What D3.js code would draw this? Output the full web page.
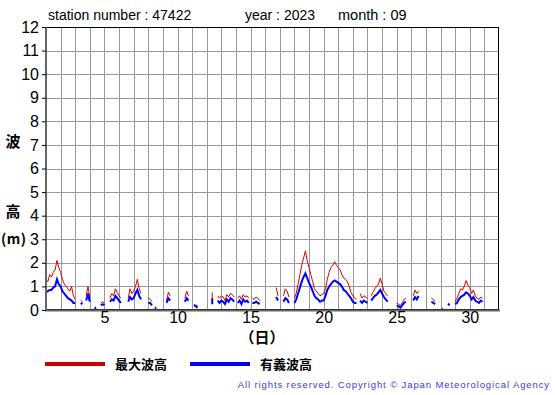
<!DOCTYPE html>
<meta charset="utf-8">
<style>
    body { margin: 0; background: #fff; }
    svg { font-family: "Liberation Sans", Arial, sans-serif; }
    .grid line { stroke: #999; stroke-width: 1; shape-rendering: crispEdges; }
    .ticklbl { font-size: 16px; fill: #000; }
    .jp { font-family: "Noto Sans CJK JP", sans-serif; font-weight: 700; }
</style>
<body>
<svg id="chart" width="555" height="395"></svg>
<script src="https://cdnjs.cloudflare.com/ajax/libs/d3/7.8.5/d3.min.js"></script>
<script>
// 3-hourly values, 8 per day, days 1..30 (null = missing)
var maxWave = [
    1.3, 1.2, 1.5, 1.4, 1.6, 1.7, 2.1, 1.8,
    1.6, 1.3, 1.1, 1.0, 0.9, 0.8, 1.0, 0.6,
    0.45, null, null, 0.4, 0.35, null, 0.6, 1.0,
    0.5, null, null, 0.15, null, null, 0.3, 0.35,
    0.3, null, null, 0.5, 0.7, 0.6, 0.9, 0.75,
    0.6, 0.5, null, null, null, 0.5, 0.9, 0.7,
    0.8, 1.0, 1.3, 0.9, 0.7, null, null, null,
    0.5, 0.45, 0.35, null, 0.15, null, null, null,
    null, null, 0.4, 0.75, 0.6, null, null, null,
    null, null, null, null, 0.5, 0.8, 0.6, null,
    null, 0.25, 0.2, 0.2, null, null, null, null,
    null, null, null, 0.75, null, null, 0.6, 0.5,
    0.6, 0.55, 0.4, 0.65, 0.55, 0.7, 0.65, 0.55,
    null, 0.5, 0.6, 0.45, 0.65, 0.55, 0.6, 0.5,
    null, 0.5, 0.45, 0.55, 0.5, 0.4, null, null,
    null, null, null, null, null, null, 0.95, 0.6,
    null, null, 0.6, 0.9, 0.8, 0.55, null, null,
    0.5, 0.7, 1.1, 1.5, 1.9, 2.2, 2.5, 2.1,
    1.8, 1.5, 1.2, 0.9, 0.8, 0.7, 0.6, 0.65,
    0.7, 0.9, 1.3, 1.6, 1.8, 1.9, 2.05, 1.9,
    1.8, 1.7, 1.5, 1.35, 1.3, 1.2, 1.0, 0.75,
    0.6, 0.5, 0.45, null, 0.7, 0.5, 0.6, 0.55,
    0.5, null, 0.6, 0.75, 0.9, 1.0, 1.1, 1.35,
    1.1, 0.8, 0.7, 0.6, null, null, null, null,
    0.3, 0.25, 0.2, 0.3, 0.45, 0.5, null, null,
    null, 0.6, 0.85, 0.7, 0.8, null, null, null,
    null, null, null, 0.5, 0.45, 0.35, null, null,
    null, 0.1, null, null, 0.3, 0.25, null, null,
    0.35, 0.5, 0.7, 0.9, 0.85, 1.0, 1.25, 1.05,
    0.95, 0.7, 0.85, 0.6, 0.5, 0.45, 0.55, 0.5
];
var sigWave = [
    0.75, 0.8, 0.85, 0.85, 0.95, 1.0, 1.3, 1.1,
    1.0, 0.8, 0.7, 0.6, 0.5, 0.45, 0.4, 0.3,
    0.3, null, null, 0.25, 0.3, null, 0.4, 0.7,
    0.35, null, null, 0.1, null, null, 0.2, 0.25,
    0.2, null, null, 0.35, 0.45, 0.4, 0.6, 0.5,
    0.4, 0.3, null, null, null, 0.35, 0.55, 0.45,
    0.5, 0.7, 0.85, 0.6, 0.45, null, null, null,
    0.3, 0.3, 0.2, null, 0.1, null, null, null,
    null, null, 0.3, 0.5, 0.4, null, null, null,
    null, null, null, null, 0.35, 0.5, 0.4, null,
    null, 0.2, 0.15, 0.1, null, null, null, null,
    null, null, null, 0.5, null, null, 0.4, 0.3,
    0.4, 0.35, 0.25, 0.45, 0.35, 0.5, 0.45, 0.35,
    null, 0.3, 0.4, 0.25, 0.45, 0.35, 0.4, 0.3,
    null, 0.3, 0.3, 0.35, 0.3, 0.25, null, null,
    null, null, null, null, null, null, 0.55, 0.4,
    null, null, 0.35, 0.5, 0.45, 0.3, null, null,
    0.3, 0.45, 0.7, 0.95, 1.2, 1.4, 1.55, 1.35,
    1.15, 1.0, 0.8, 0.6, 0.5, 0.45, 0.35, 0.4,
    0.4, 0.6, 0.85, 1.0, 1.1, 1.2, 1.25, 1.2,
    1.15, 1.1, 1.0, 0.85, 0.8, 0.7, 0.6, 0.5,
    0.35, 0.3, 0.3, null, 0.4, 0.3, 0.4, 0.35,
    0.3, null, 0.4, 0.5, 0.6, 0.65, 0.75, 0.85,
    0.7, 0.55, 0.45, 0.35, null, null, null, null,
    0.2, 0.15, 0.1, 0.2, 0.3, 0.35, null, null,
    null, 0.4, 0.55, 0.45, 0.6, null, null, null,
    null, null, null, 0.35, 0.3, 0.25, null, null,
    null, 0.05, null, null, 0.25, 0.2, null, null,
    0.25, 0.3, 0.45, 0.55, 0.6, 0.65, 0.75, 0.7,
    0.6, 0.45, 0.55, 0.4, 0.35, 0.3, 0.4, 0.35
];
var xTicks = [5, 10, 15, 20, 25, 30];
var yTicks = [0, 1, 2, 3, 4, 5, 6, 7, 8, 9, 10, 11, 12];
var stationNo = "47422", year = "2023", month = "09";

var svg = d3.select("#chart");
var x = d3.scaleLinear().domain([1, 32]).range([46, 499]);
var y = d3.scaleLinear().domain([0, 12]).range([310, 27]);

// grid
var grid = svg.append("g").attr("class", "grid");
grid.selectAll(".v").data(d3.range(2, 32)).enter().append("line")
    .attr("x1", function (d) { return Math.round(x(d)) + 0.5; })
    .attr("x2", function (d) { return Math.round(x(d)) + 0.5; })
    .attr("y1", y(12)).attr("y2", y(0));
grid.selectAll(".h").data(d3.range(1, 12)).enter().append("line")
    .attr("y1", function (d) { return Math.round(y(d)) + 0.5; })
    .attr("y2", function (d) { return Math.round(y(d)) + 0.5; })
    .attr("x1", x(1)).attr("x2", x(32));

// frame
svg.append("rect").attr("x", 46.5).attr("y", 27.5).attr("width", 452).attr("height", 282)
    .attr("fill", "none").attr("stroke", "#000").attr("stroke-width", 1);

function series(vals) {
    return vals.map(function (v, i) { return { t: 1 + i / 8, v: v }; });
}
var line = d3.line()
    .defined(function (d) { return d.v !== null; })
    .x(function (d) { return x(d.t); })
    .y(function (d) { return y(d.v); });

function drawSeries(vals, color, w) {
    var pts = series(vals);
    svg.append("path").datum(pts)
        .attr("d", line).attr("fill", "none")
        .attr("stroke", color).attr("stroke-width", w);
    // isolated observations drawn as short ticks
    var iso = pts.filter(function (d, i) {
        return d.v !== null && (i === 0 || pts[i - 1].v === null) && (i === pts.length - 1 || pts[i + 1].v === null);
    });
    svg.selectAll(null).data(iso).enter().append("line")
        .attr("x1", function (d) { return x(d.t); })
        .attr("x2", function (d) { return x(d.t); })
        .attr("y1", function (d) { return y(d.v); })
        .attr("y2", function (d) { return Math.min(y(0), y(d.v) + 6); })
        .attr("stroke", color).attr("stroke-width", w);
}
drawSeries(maxWave, "#dd0000", 1);
drawSeries(sigWave, "#0000ff", 2);

// axes lines (left & bottom heavier)
svg.append("line").attr("x1", 46).attr("x2", 46).attr("y1", 27).attr("y2", 311)
    .attr("stroke", "#666").attr("stroke-width", 2);
svg.append("line").attr("x1", 45).attr("x2", 500).attr("y1", 310.5).attr("y2", 310.5)
    .attr("stroke", "#666").attr("stroke-width", 2);

// y tick labels
var yAxis = svg.append("g").attr("transform", "translate(46,0)")
    .call(d3.axisLeft(y).tickValues(yTicks).tickSize(4).tickPadding(3));
yAxis.select(".domain").remove();
yAxis.selectAll("line").attr("stroke", "#000");
yAxis.selectAll("text").attr("class", "ticklbl").attr("font-family", null).attr("font-size", null);

// x tick labels
var xAxis = svg.append("g").attr("transform", "translate(0,310)")
    .call(d3.axisBottom(x).tickValues(xTicks).tickSize(0).tickPadding(2));
xAxis.select(".domain").remove();
xAxis.selectAll("text").attr("class", "ticklbl").attr("font-family", null).attr("font-size", null);

svg.append("text").attr("class", "jp").attr("x", 262).attr("y", 343)
    .attr("text-anchor", "middle").attr("font-size", 15).attr("font-weight", 400).text("（日）");

// y label
svg.append("text").attr("class", "jp").attr("x", 13).attr("y", 147)
    .attr("text-anchor", "middle").attr("font-size", 15).text("波");
svg.append("text").attr("class", "jp").attr("x", 13).attr("y", 217)
    .attr("text-anchor", "middle").attr("font-size", 15).text("高");
svg.append("text").attr("class", "jp").attr("x", 1).attr("y", 244)
    .attr("font-size", 14).attr("letter-spacing", 0.5)
    .text("(m)");

// title
svg.append("text").attr("x", 48).attr("y", 20).attr("font-size", 14)
    .text("station number : " + stationNo);
svg.append("text").attr("x", 245).attr("y", 20).attr("font-size", 14)
    .text("year : " + year);
svg.append("text").attr("x", 338).attr("y", 20).attr("font-size", 14.5)
    .text("month : " + month);

// legend
var legend = [{ name: "最大波高", color: "#cc0000", x: 45 }, { name: "有義波高", color: "#0000ff", x: 190 }];
legend.forEach(function (l) {
    svg.append("line").attr("x1", l.x).attr("x2", l.x + 60).attr("y1", 364).attr("y2", 364)
        .attr("stroke", l.color).attr("stroke-width", 4);
    svg.append("text").attr("class", "jp").attr("x", l.x + 70).attr("y", 369)
        .attr("font-size", 13).text(l.name);
});

svg.append("text").attr("x", 550).attr("y", 388).attr("text-anchor", "end")
    .attr("font-size", 9.5).attr("letter-spacing", 0.9).attr("fill", "#3b3bdd")
    .text("All rights reserved. Copyright © Japan Meteorological Agency");
</script>
</body>
